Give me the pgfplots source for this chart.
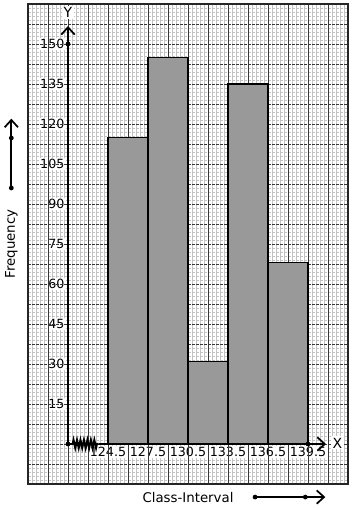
\documentclass[border=0pt]{standalone}
\usepackage{fontspec}
\setmainfont{DejaVu Sans}
\usepackage{pgfplots}
\pgfplotsset{compat=1.18}
\usetikzlibrary{arrows.meta,decorations.pathmorphing}
\definecolor{barfill}{RGB}{153,153,153}
\definecolor{minorgrid}{RGB}{195,195,195}
\definecolor{majorgrid}{RGB}{55,55,55}
\tikzset{myarrow/.style={black, line width=1.5pt, -{Straight Barb[length=5.5pt,width=10pt,line width=1.3pt]}}}
\begin{document}
\begin{tikzpicture}
\begin{axis}[
  width=240pt, height=360pt, scale only axis,
  axis lines=middle,
  axis line style={draw=none},
  clip=false,
  xmin=-3, xmax=21, ymin=-15, ymax=165,
  x filter/.expression={x-121.5},
  xtick={3,6,...,18},
  xticklabels={124.5,127.5,130.5,133.5,136.5,139.5},
  ytick={15,30,...,150},
  minor xtick={-3,-2.7,...,21.1},
  minor ytick={-15,-13.5,...,165.1},
  extra x ticks={-3,-1.5,...,21.1},
  extra y ticks={-15,-7.5,...,165.1},
  extra x tick labels={},
  extra y tick labels={},
  extra tick style={grid=major, major tick length=0pt, tick label style={fill=none, inner sep=0pt}},
  grid=both,
  minor grid style={draw=minorgrid, line width=0.4pt},
  major grid style={draw=majorgrid, line width=0.6pt},
  y grid style={dash pattern=on 2.4pt off 0.6pt},
  major tick length=0pt, minor tick length=0pt,
  /pgf/number format/assume math mode=true,
  every tick label/.append style={font=\fontsize{9.5}{10}\selectfont, fill=white, inner sep=1pt},
  xticklabel style={yshift=-1pt},
  yticklabel style={xshift=-1.5pt},
]
\addplot[ybar interval, fill=barfill, draw=black, line width=0.9pt]
  coordinates {(124.5,115) (127.5,145) (130.5,31) (133.5,135) (136.5,68) (139.5,68)};
% frame
\draw[black!85, line width=1pt] (rel axis cs:0,0) rectangle (rel axis cs:1,1);
\coordinate (SW) at (rel axis cs:0,0);
\coordinate (NE) at (rel axis cs:1,1);
% axes
\node[fill=white, inner sep=1pt, font=\fontsize{10.5}{11}\selectfont] at (axis cs:0,161.8) {Y};
\node[fill=white, inner sep=1pt, font=\fontsize{10.5}{11}\selectfont] at (axis cs:20.2,0.4) {X};
\draw[myarrow] (axis cs:0,0) -- (axis cs:0,156.75);
\draw[black, line width=1.5pt] (axis cs:0,0) -- (axis cs:0.35,0);
\draw[black, line width=1.5pt, decorate, decoration={zigzag, segment length=2.6pt, amplitude=3pt}] (axis cs:0.35,0) -- (axis cs:2.3,0);
\draw[myarrow] (axis cs:2.3,0) -- (axis cs:19.35,0);
\fill (axis cs:0,0) circle (1.8pt);
\fill (axis cs:0,150) circle (1.8pt);
\fill (axis cs:18,0) circle (1.8pt);
% outer labels
\node[rotate=90, font=\fontsize{10}{11}\selectfont] at (axis cs:-4.25,75) {Frequency};
\draw[myarrow] (axis cs:-4.25,96) -- (axis cs:-4.25,122);
\fill (axis cs:-4.25,96) circle (1.8pt);
\fill (axis cs:-4.25,114.75) circle (1.8pt);
\node[font=\fontsize{10}{11}\selectfont] at (axis cs:9,-19.9) {Class-Interval};
\draw[myarrow] (axis cs:14.03,-19.9) -- (axis cs:19.3,-19.9);
\fill (axis cs:14.03,-19.9) circle (1.8pt);
\fill (axis cs:17.8,-19.9) circle (1.8pt);
\end{axis}
\pgfresetboundingbox
\path[use as bounding box] ([xshift=-21pt,yshift=-19.5pt]SW) rectangle ([xshift=3.75pt,yshift=3pt]NE);
\end{tikzpicture}
\end{document}
